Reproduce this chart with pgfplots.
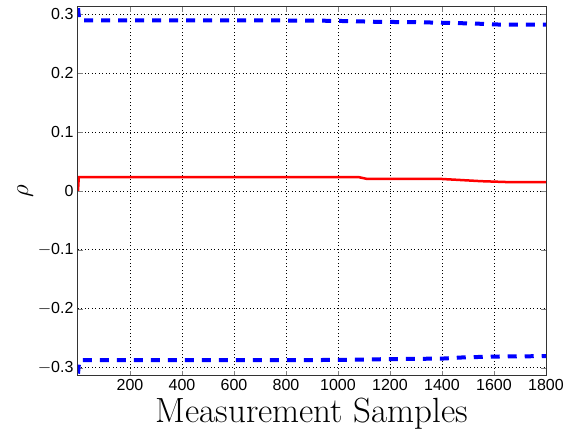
\documentclass[border=0pt]{standalone}
\usepackage{fontspec}
\usepackage{pgfplots}
\pgfplotsset{compat=1.18}
\newfontfamily\helv{Liberation Sans}
\begin{document}
\begin{tikzpicture}
\begin{axis}[
  scale only axis,
  width=468pt, height=369pt,
  xmin=0, xmax=1800, ymin=-0.314, ymax=0.312,
  xtick={200,400,...,1800},
  ytick={-0.3,-0.2,-0.1,0,0.1,0.2,0.3},
  yticklabels={$-$0.3,$-$0.2,$-$0.1,0,0.1,0.2,0.3},
  scaled x ticks=false,
  /pgf/number format/assume math mode=true,
  /pgf/number format/1000 sep={},
  tick label style={font=\fontsize{16}{19}\helv},
  tick align=inside,
  major tick length=5pt,
  axis line style={line width=1pt, black!80},
  grid=major,
  major grid style={black, line width=0.8pt, dash pattern=on 1pt off 2.5pt},
  xlabel={\fontsize{35}{40}\selectfont Measurement Samples},
  ylabel={\fontsize{30}{34}\selectfont $\rho$},
  xlabel style={at={(axis description cs:0.5,0)}, anchor=north, inner sep=0pt, yshift=-22pt},
  ylabel style={yshift=-2pt},
  yticklabel style={xshift=-1pt},
  xticklabel style={inner sep=1pt, yshift=-2pt},
]
\addplot[blue, line width=4pt, dash pattern=on 9pt off 8pt] coordinates {
(0,0.31)(5,0.2893)(300,0.2893)(600,0.2892)(900,0.289)(1050,0.288)(1150,0.2868)(1300,0.2862)(1450,0.2848)(1550,0.2835)(1620,0.2822)(1800,0.282)};
\addplot[blue, line width=4pt, dash pattern=on 9pt off 8pt] coordinates {
(0,-0.31)(5,-0.2872)(300,-0.2872)(600,-0.2872)(900,-0.287)(1050,-0.2865)(1200,-0.2853)(1400,-0.2845)(1480,-0.2825)(1600,-0.281)(1800,-0.2803)};
\addplot[red, line width=2.5pt] coordinates {
(0,0.0)(3,0.0233)(1080,0.0233)(1110,0.0205)(1400,0.0202)(1450,0.019)(1550,0.0165)(1650,0.015)(1800,0.0148)};
\end{axis}
\path[use as bounding box] (current axis.south west) ++(-78pt,-54pt) rectangle ++(571pt,430pt);
\end{tikzpicture}
\end{document}
